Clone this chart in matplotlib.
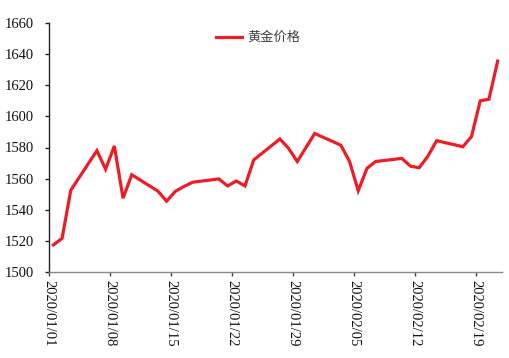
import matplotlib
matplotlib.use("Agg")
import matplotlib.pyplot as plt
import matplotlib.dates as mdates
import numpy as np
import datetime as dt

dates = ["2020-01-01", "2020-01-02", "2020-01-03", "2020-01-06", "2020-01-07", "2020-01-08",
         "2020-01-09", "2020-01-10", "2020-01-13", "2020-01-14", "2020-01-15", "2020-01-16",
         "2020-01-17", "2020-01-20", "2020-01-21", "2020-01-22", "2020-01-23", "2020-01-24",
         "2020-01-27", "2020-01-28", "2020-01-29", "2020-01-31", "2020-02-03", "2020-02-04",
         "2020-02-05", "2020-02-06", "2020-02-07", "2020-02-10", "2020-02-11", "2020-02-12",
         "2020-02-13", "2020-02-14", "2020-02-17", "2020-02-18", "2020-02-19", "2020-02-20",
         "2020-02-21"]
prices = [1517.4, 1521.6, 1552.5, 1578.0, 1566.0, 1581.0,
          1547.4, 1562.5, 1552.0, 1545.5, 1551.8, 1555.0,
          1557.7, 1559.8, 1555.3, 1558.5, 1555.3, 1572.0,
          1585.5, 1579.5, 1571.0, 1589.0, 1581.5, 1571.0,
          1552.2, 1566.6, 1571.0, 1573.0, 1568.0, 1567.0,
          1574.5, 1584.4, 1580.5, 1587.0, 1610.0, 1611.0,
          1635.5]
tick_labels = ["2020/01/01", "2020/01/08", "2020/01/15", "2020/01/22",
               "2020/01/29", "2020/02/05", "2020/02/12", "2020/02/19"]
series_name = "黄金价格"

x = np.array([mdates.date2num(dt.datetime.strptime(d, "%Y-%m-%d")) for d in dates]) + 0.5
ticks = [mdates.date2num(dt.datetime.strptime(t, "%Y/%m/%d")) for t in tick_labels]

fig = plt.figure(figsize=(5.1, 3.58), dpi=100)
ax = fig.add_axes([49/510, 86/358, (502-49)/510, (335-86)/358])

ax.plot(x, prices, color="#EE1C25", lw=2.3, label=series_name, solid_joinstyle="miter")

ax.set_xlim(ticks[0], mdates.date2num(dt.datetime(2020, 2, 22)))
ax.set_ylim(1500, 1660)
ax.set_yticks(np.arange(1500, 1661, 20))
ax.set_xticks(ticks)
ax.set_xticklabels(tick_labels, rotation=-90, ha="center", va="top")

serif = ["Liberation Serif", "DejaVu Serif"]
for lbl in ax.get_xticklabels() + ax.get_yticklabels():
    lbl.set_family(serif)
    lbl.set_fontsize(10.5)
    lbl.set_color("#111111")

for s in ["top", "right"]:
    ax.spines[s].set_visible(False)
ax.spines["left"].set_color("#222222")
ax.spines["bottom"].set_color("#888888")
ax.spines["left"].set_linewidth(1.0)
ax.spines["bottom"].set_linewidth(1.0)
ax.tick_params(axis="y", direction="out", length=3, width=1, color="#222222", pad=8)
ax.tick_params(axis="x", direction="out", length=3, width=1, color="#444444", pad=3)

leg = ax.legend(loc="upper center", bbox_to_anchor=(0.462, 1.015), frameon=False,
                handlelength=2.0, handletextpad=0.4,
                prop={"family": ["Noto Sans CJK SC", "DejaVu Sans"], "size": 9.5})
for t in leg.get_texts():
    t.set_color("#404040")

fig.savefig("out.png", dpi=100)
